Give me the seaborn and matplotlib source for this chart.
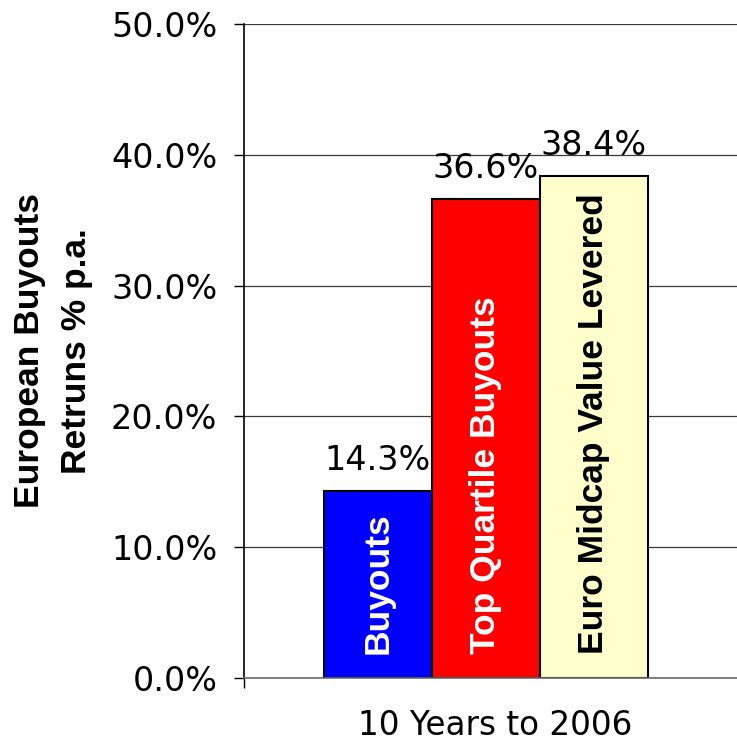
import matplotlib
matplotlib.use("Agg")
import matplotlib.pyplot as plt
import seaborn as sns
import pandas as pd
from matplotlib.ticker import FuncFormatter

# Returns data (percent per annum)
period = ["10 Years to 2006"]
series = ["Buyouts", "Top Quartile Buyouts", "Euro Midcap Value Levered"]
returns = [14.3, 36.6, 38.4]
bar_colors = ["#0000FF", "#FF0000", "#FFFFCC"]
inner_text_colors = ["white", "white", "black"]
y_ticks = [0, 10, 20, 30, 40, 50]

df = pd.DataFrame({
    "period": period * len(series),
    "series": series,
    "ret": returns,
})

sns.set_theme(style="white")
plt.rcParams["font.family"] = ["DejaVu Sans"]

fig = plt.figure(figsize=(7.37, 7.43), dpi=100)
# plot area runs a little past the right edge of the canvas
ax = fig.add_axes([244 / 737, 65 / 743, 502 / 737, 654 / 743])

sns.barplot(
    data=df, x="period", y="ret", hue="series", hue_order=series,
    palette=bar_colors, saturation=1, width=0.8, legend=False,
    edgecolor="black", linewidth=1.5, ax=ax,
)

ax.set_ylim(0, 50)
left_x, right_x = -0.5975, 0.642
ax.set_xlim(left_x, right_x)
ax.set_yticks(y_ticks)
ax.yaxis.set_major_formatter(FuncFormatter(lambda v, _: f"{v:.1f}%"))

# category label centred under the plot area
ax.set_xticks([(left_x + right_x) / 2], labels=period)

# horizontal grid behind the bars
ax.set_axisbelow(True)
ax.yaxis.grid(True, color="#3a3a3a", linewidth=0.9)
ax.xaxis.grid(False)

for side in ("top", "right"):
    ax.spines[side].set_visible(False)
ax.spines["bottom"].set_color("#6a6a6a")
ax.spines["bottom"].set_linewidth(1.2)
ax.spines["left"].set_color("black")
ax.spines["left"].set_linewidth(1.2)

ax.tick_params(axis="y", which="major", left=True, length=7.2, width=1,
               color="black", pad=12, labelsize=24, labelcolor="black")
ax.tick_params(axis="x", which="major", length=0, pad=22, labelsize=23.5,
               labelcolor="black")
ax.set_xticks([left_x], minor=True)
ax.tick_params(axis="x", which="minor", bottom=True, length=7.2, width=1,
               color="black")

ax.set_xlabel("")
ax.set_ylabel("")

# value labels above bars and series names inside bars
for container, name, txt_col in zip(ax.containers, series, inner_text_colors):
    ax.bar_label(container, labels=[f"{v:.1f}%" for v in container.datavalues],
                 padding=10, fontsize=24, color="black")
    for bar in container:
        cx = bar.get_x() + bar.get_width() / 2
        ax.text(cx, 1.8, name, rotation=90, ha="center", va="bottom",
                color=txt_col, fontsize=25.5, fontweight="bold",
                family="Liberation Sans")

fig.text(53 / 737, 1 - 351 / 743, "European Buyouts\nRetruns % p.a.",
         rotation=90, ha="center", va="center", fontsize=25.5,
         fontweight="bold", family="Liberation Sans", linespacing=1.55,
         color="black")

fig.savefig("out.png", dpi=100, facecolor="white")
